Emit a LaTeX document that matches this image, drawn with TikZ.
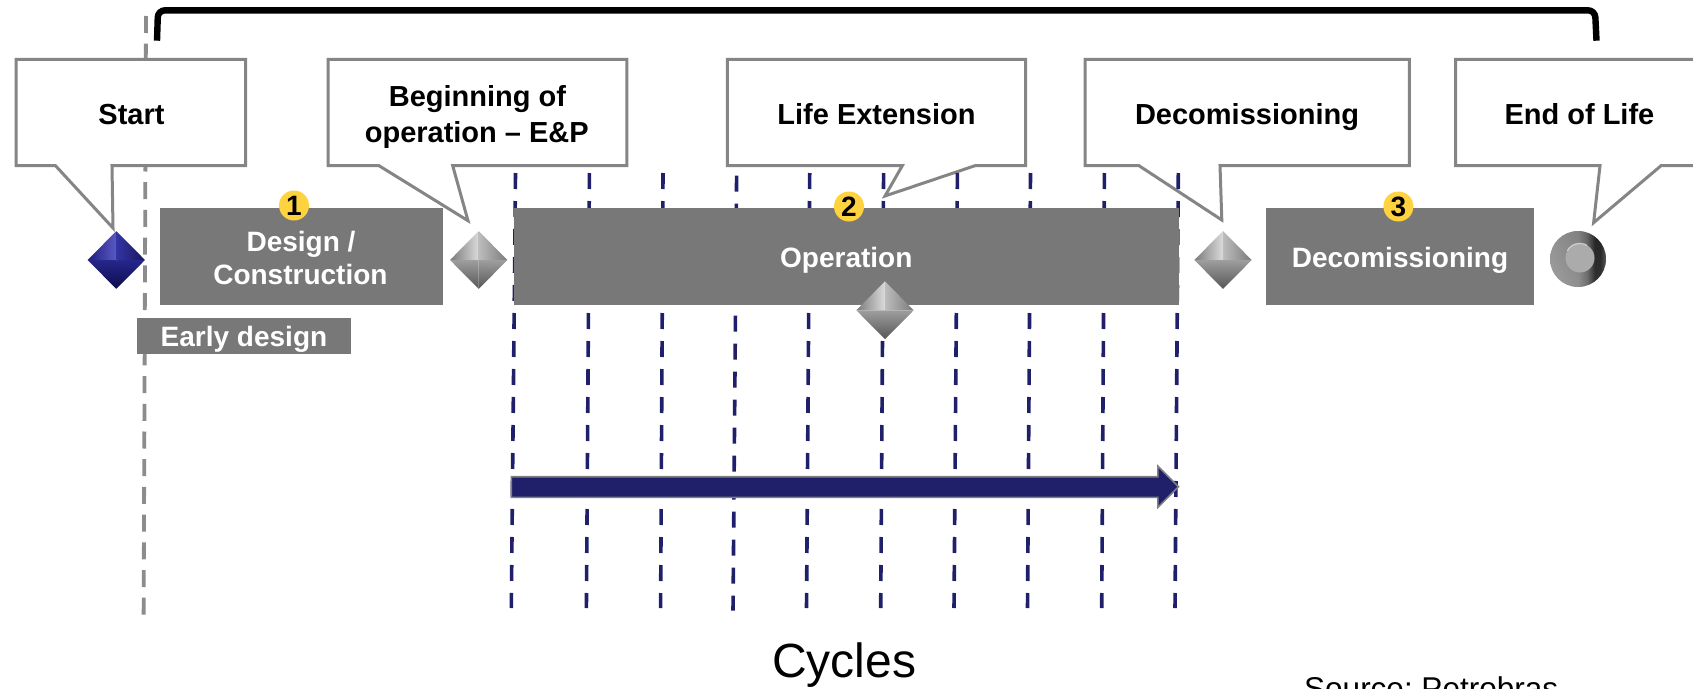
\documentclass[tikz,border=0pt]{standalone}
\usepackage{fontspec}
\setmainfont{Liberation Sans}
\frenchspacing
\usetikzlibrary{shapes.geometric}
\definecolor{boxgray}{HTML}{787878}
\definecolor{edgegray}{HTML}{858585}
\definecolor{navy}{HTML}{20206A}
\definecolor{badge}{HTML}{FFD23F}
\definecolor{blueA}{HTML}{1E1E80}
\definecolor{blueB}{HTML}{5A5AC4}
\definecolor{blueC}{HTML}{3434A4}
\definecolor{blueD}{HTML}{16165E}
\definecolor{blueE}{HTML}{26268C}
\definecolor{blueF}{HTML}{0C0C4C}
\definecolor{ballA}{HTML}{8C8C8C}
\definecolor{ballB}{HTML}{787878}
\definecolor{ballC}{HTML}{505050}
\definecolor{ballD}{HTML}{000000}
\definecolor{ballE}{HTML}{383838}
\pgfdeclarehorizontalshading{ballshade}{100bp}{color(0bp)=(ballA); color(25bp)=(ballA); color(50bp)=(ballB); color(58bp)=(ballC); color(65bp)=(ballD); color(70bp)=(ballD); color(75bp)=(ballE); color(100bp)=(ballE)}
\newcommand{\gemfacets}[6]{%
  \coordinate (gc) at (path picture bounding box.center);
  \coordinate (gn) at (path picture bounding box.north);
  \coordinate (gs) at (path picture bounding box.south);
  \coordinate (ge) at (path picture bounding box.east);
  \coordinate (gw) at (path picture bounding box.west);
  \shade[left color=#1,right color=#2] (gc) -- (gn) -- (gw) -- cycle;
  \shade[left color=#3,right color=#4] (gc) -- (gn) -- (ge) -- cycle;
  \shade[top color=#5,bottom color=#6] (gc) -- (gw) -- (gs) -- cycle;
  \shade[top color=#5,bottom color=#6] (gc) -- (ge) -- (gs) -- cycle;
}
\tikzset{
  x=1pt,y=-1pt,
  callout/.style={draw=edgegray,fill=white,line width=3pt,line join=miter,miter limit=6},
  calltext/.style={anchor=base,inner sep=0pt,font=\fontsize{29}{35}\selectfont\bfseries,text=black},
  boxtext/.style={anchor=base,inner sep=0pt,font=\fontsize{28}{34}\selectfont\bfseries,text=white},
  phasebox/.style={fill=boxgray,draw=none},
  cycleline/.style={draw=navy,line width=3.6pt,dash pattern=on 16pt off 12pt},
  startline/.style={draw=boxgray!85,line width=3.8pt,dash pattern=on 17pt off 10.7pt},
  numbadge/.style={circle,fill=badge,draw=none,minimum size=30pt,inner sep=0pt,font=\fontsize{28}{28}\selectfont\bfseries,text=black},
  gemgray/.style={diamond,draw=none,inner sep=0pt,minimum width=57.5pt,minimum height=58pt,
    path picture={\gemfacets{black!52}{black!14}{black!26}{black!52}{black!38}{black!66}}},
  gemblue/.style={diamond,draw=none,inner sep=0pt,minimum width=57.5pt,minimum height=58pt,
    path picture={\gemfacets{blueA}{blueB}{blueC}{blueD}{blueE}{blueF}}},
  endball/.style={circle,draw=none,inner sep=0pt,minimum size=56pt,
    path picture={
      \shade[shading=ballshade]
        (path picture bounding box.south west) rectangle (path picture bounding box.north east);
      \shade[top color=black!35,middle color=black!50,bottom color=black!10,opacity=.22]
        (path picture bounding box.south west) rectangle (path picture bounding box.north east);
    }},
  enddisc/.style={circle,fill=black!33,draw=none,inner sep=0pt,minimum size=29pt},
}
\begin{document}
\begin{tikzpicture}
\useasboundingbox (0,0) rectangle (1693,688);
\fill[white] (0,0) rectangle (1693,688);
\clip (0,0) rectangle (1693,688);

% start line
\coordinate (startTop) at (146,16);
\coordinate (startBottom) at (143.6,621);
\draw[startline] (startTop) -- (startBottom);

% bracket
\coordinate (brL) at (157,40.7);
\coordinate (brLT) at (158,10.3);
\coordinate (brRT) at (1595,10.3);
\coordinate (brR) at (1596.5,40.7);
\draw[black,line width=6.4pt,rounded corners=7pt] (brL) -- (brLT) -- (brRT) -- (brR);

% callouts
\draw[callout] (16,59.3) -- (245.7,59.3) -- (245.7,165.7) -- (112,165.7) -- (113,228) -- (55.5,165.7) -- (16,165.7) -- cycle;
\draw[callout] (328,59.3) -- (626.8,59.3) -- (626.8,165.7) -- (452.7,165.7) -- (468,220.7) -- (379,165.7) -- (328,165.7) -- cycle;
\draw[callout] (727.4,59.3) -- (1025.6,59.3) -- (1025.6,165.7) -- (975,165.7) -- (885,196) -- (902.3,165.7) -- (727.4,165.7) -- cycle;
\draw[callout] (1085,59.3) -- (1409.4,59.3) -- (1409.4,165.7) -- (1220,165.7) -- (1221.8,220) -- (1139,165.7) -- (1085,165.7) -- cycle;
\draw[callout] (1455.5,59.3) -- (1710,59.3) -- (1710,165.7) -- (1661,165.7) -- (1593.6,222.7) -- (1600,165.7) -- (1455.5,165.7) -- cycle;

% cycle lines
\foreach \n/\xa/\ya/\xb/\yb in {1/515.5/173/511.3/608,2/589.4/173/586.4/608,3/663/173/660.6/608,4/736.6/175.7/733/610.7,5/809.7/173/806.5/608,6/883.6/173/880.7/608,7/957.4/173/954/608,8/1030.5/173/1027.5/608,9/1104.4/173/1101.7/608,10/1178.3/173/1175/608}{
  \coordinate (cyT\n) at (\xa,\ya);
  \coordinate (cyB\n) at (\xb,\yb);
  \draw[cycleline] (cyT\n) -- (cyB\n);
}

% phase boxes
\node[phasebox,anchor=north west,inner sep=0pt,minimum width=283.4pt,minimum height=97.4pt] (design) at (159.6,207.3) {};
\node[phasebox,anchor=north west,inner sep=0pt,minimum width=665pt,minimum height=97.4pt] (operation) at (513.6,207.3) {};
\node[phasebox,anchor=north west,inner sep=0pt,minimum width=268.7pt,minimum height=97.4pt] (decom) at (1265.3,207.3) {};
\node[phasebox,anchor=north west,inner sep=0pt,minimum width=214pt,minimum height=36pt] (early) at (137,317.7) {};

% arrow
\coordinate (arrowStart) at (511.3,486.7);
\coordinate (arrowEnd) at (1178.4,486.7);
\draw[fill=navy,draw=black!50,line width=1.6pt,line join=miter]
  (arrowStart) ++(0,-10) -- ++(646.5,0) -- ++(0,-10.7) -- (arrowEnd) -- ++(-20.6,20.8) -- ++(0,-10.1) -- ++(-646.5,0) -- cycle;

% texts in callouts
\node[calltext] (tStart) at (131.5,124) {Start};
\node[calltext] (tBegin1) at (477.4,106.7) {Beginning of};
\node[calltext] (tBegin2) at (476.8,142.7) {operation – E\&P};
\node[calltext] (tLife) at (876.5,124) {Life Extension};
\node[calltext] (tDecom) at (1247,124) {Decomissioning};
\node[calltext] (tEnd) at (1579.4,124) {End of Life};

% texts in boxes
\node[boxtext] (tDesign1) at (301,251) {Design /};
\node[boxtext] (tDesign2) at (300.4,284.3) {Construction};
\node[boxtext] (tEarly) at (244,346.7) {Early design};
\node[boxtext] (tOper) at (846.3,267.7) {Operation};
\node[boxtext] (tDecomB) at (1400,267.7) {Decomissioning};

% badges
\node[numbadge] (b1) at (294,205.5) {1};
\node[numbadge] (b2) at (849,206.5) {2};
\node[numbadge] (b3) at (1398.4,206.5) {3};

% gems
\node[gemblue] (gStart) at (116.3,260) {};
\node[gemgray] (gBegin) at (478.7,260) {};
\node[gemgray] (gLife) at (885,310.3) {};
\node[gemgray] (gDecom) at (1223,260) {};
\node[endball] (gEnd) at (1578,259) {};
\node[enddisc] (gEndDisc) at (1580,258) {};
\draw[white,opacity=.55,line width=1.2pt] (gEndDisc.150) arc[start angle=150,end angle=60,radius=14.5pt];

% bottom texts
\node[anchor=base,inner sep=0pt,font=\fontsize{48}{54}\selectfont] (cycles) at (844,677) {Cycles};
\node[anchor=base west,inner sep=0pt,font=\fontsize{31.5}{36}\selectfont] (source) at (1304,699) {Source: Petrobras};
\end{tikzpicture}
\end{document}
